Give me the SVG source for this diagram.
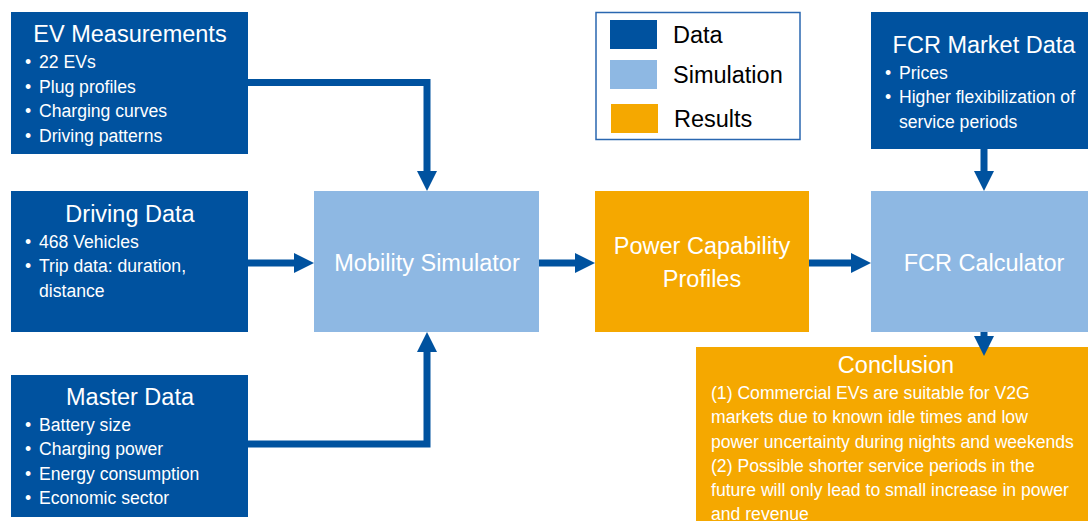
<svg xmlns="http://www.w3.org/2000/svg" width="1088" height="521" viewBox="0 0 1088 521">
<style>
text{font-family:"Liberation Sans",Arial,sans-serif;}
.data{fill:#00529f;}
.sim{fill:#8eb8e3;}
.res{fill:#f5a800;}
.t{fill:#fff;font-size:23.5px;text-anchor:middle;}
.b{fill:#fff;font-size:17.6px;}
.lg{fill:#000;font-size:23.5px;}
.conn{fill:none;stroke:#00529f;stroke-width:7;stroke-linejoin:miter;marker-end:url(#ah);}
</style>
<defs>
<marker id="ah" markerUnits="userSpaceOnUse" markerWidth="20" markerHeight="20" refX="0" refY="10" orient="auto" overflow="visible">
<path d="M0,0 L20,10 L0,20 z" fill="#00529f"/>
</marker>
</defs>
<rect width="1088" height="521" fill="#fff"/>
<g id="ev-measurements">
<rect class="data" x="11" y="12" width="237" height="142"/>
<text class="t" x="130" y="42">EV Measurements</text>
<text class="b" x="25" y="68">•</text><text class="b" x="39" y="68">22 EVs</text>
<text class="b" x="25" y="92.5">•</text><text class="b" x="39" y="92.5">Plug profiles</text>
<text class="b" x="25" y="117">•</text><text class="b" x="39" y="117">Charging curves</text>
<text class="b" x="25" y="141.5">•</text><text class="b" x="39" y="141.5">Driving patterns</text>
</g>
<g id="driving-data">
<rect class="data" x="11" y="191" width="237" height="141"/>
<text class="t" x="130" y="221.5">Driving Data</text>
<text class="b" x="25" y="247.5">•</text><text class="b" x="39" y="247.5">468 Vehicles</text>
<text class="b" x="25" y="272">•</text><text class="b" x="39" y="272">Trip data: duration,</text>
<text class="b" x="39" y="296.5">distance</text>
</g>
<g id="master-data">
<rect class="data" x="11" y="375" width="237" height="142"/>
<text class="t" x="130" y="405">Master Data</text>
<text class="b" x="25" y="430.5">•</text><text class="b" x="39" y="430.5">Battery size</text>
<text class="b" x="25" y="455">•</text><text class="b" x="39" y="455">Charging power</text>
<text class="b" x="25" y="479.5">•</text><text class="b" x="39" y="479.5">Energy consumption</text>
<text class="b" x="25" y="504">•</text><text class="b" x="39" y="504">Economic sector</text>
</g>
<g id="mobility-simulator">
<rect class="sim" x="314" y="191" width="225" height="141"/>
<text class="t" x="427" y="271">Mobility Simulator</text>
</g>
<g id="power-capability-profiles">
<rect class="res" x="595" y="191" width="214" height="141"/>
<text class="t" x="702" y="254">Power Capability</text>
<text class="t" x="702" y="287">Profiles</text>
</g>
<g id="fcr-market-data">
<rect class="data" x="871" y="12" width="226" height="137"/>
<text class="t" x="984" y="52.5">FCR Market Data</text>
<text class="b" x="885" y="78.5">•</text><text class="b" x="899" y="78.5">Prices</text>
<text class="b" x="885" y="103">•</text><text class="b" x="899" y="103">Higher flexibilization of</text>
<text class="b" x="899" y="127.5">service periods</text>
</g>
<g id="fcr-calculator">
<rect class="sim" x="871" y="191" width="226" height="141"/>
<text class="t" x="984" y="271">FCR Calculator</text>
</g>
<g id="conclusion">
<rect class="res" x="696" y="347" width="401" height="180"/>
<text class="t" x="896" y="373">Conclusion</text>
<text class="b" x="711" y="399">(1) Commercial EVs are suitable for V2G</text>
<text class="b" x="711" y="423">markets due to known idle times and low</text>
<text class="b" x="711" y="447.5">power uncertainty during nights and weekends</text>
<text class="b" x="711" y="471.5">(2) Possible shorter service periods in the</text>
<text class="b" x="711" y="495.5">future will only lead to small increase in power</text>
<text class="b" x="711" y="519.5">and revenue</text>
</g>
<g id="legend">
<rect x="596" y="12.5" width="204" height="127" fill="#fff" stroke="#2a67b0" stroke-width="1.5"/>
<rect class="data" x="610" y="20" width="47" height="29"/>
<rect class="sim" x="610" y="60" width="47" height="29"/>
<rect class="res" x="611" y="104" width="47" height="29"/>
<text class="lg" x="673" y="43">Data</text>
<text class="lg" x="673" y="83">Simulation</text>
<text class="lg" x="674" y="127">Results</text>
</g>
<g id="connectors">
<path class="conn" d="M248,82.5 H427 V171"/>
<path class="conn" d="M248,263 H294"/>
<path class="conn" d="M248,444 H427 V352"/>
<path class="conn" d="M539,263 H575"/>
<path class="conn" d="M809,263 H851"/>
<path class="conn" d="M984,149 V171"/>
<path class="conn" d="M984,332 V336"/>
</g>
</svg>
